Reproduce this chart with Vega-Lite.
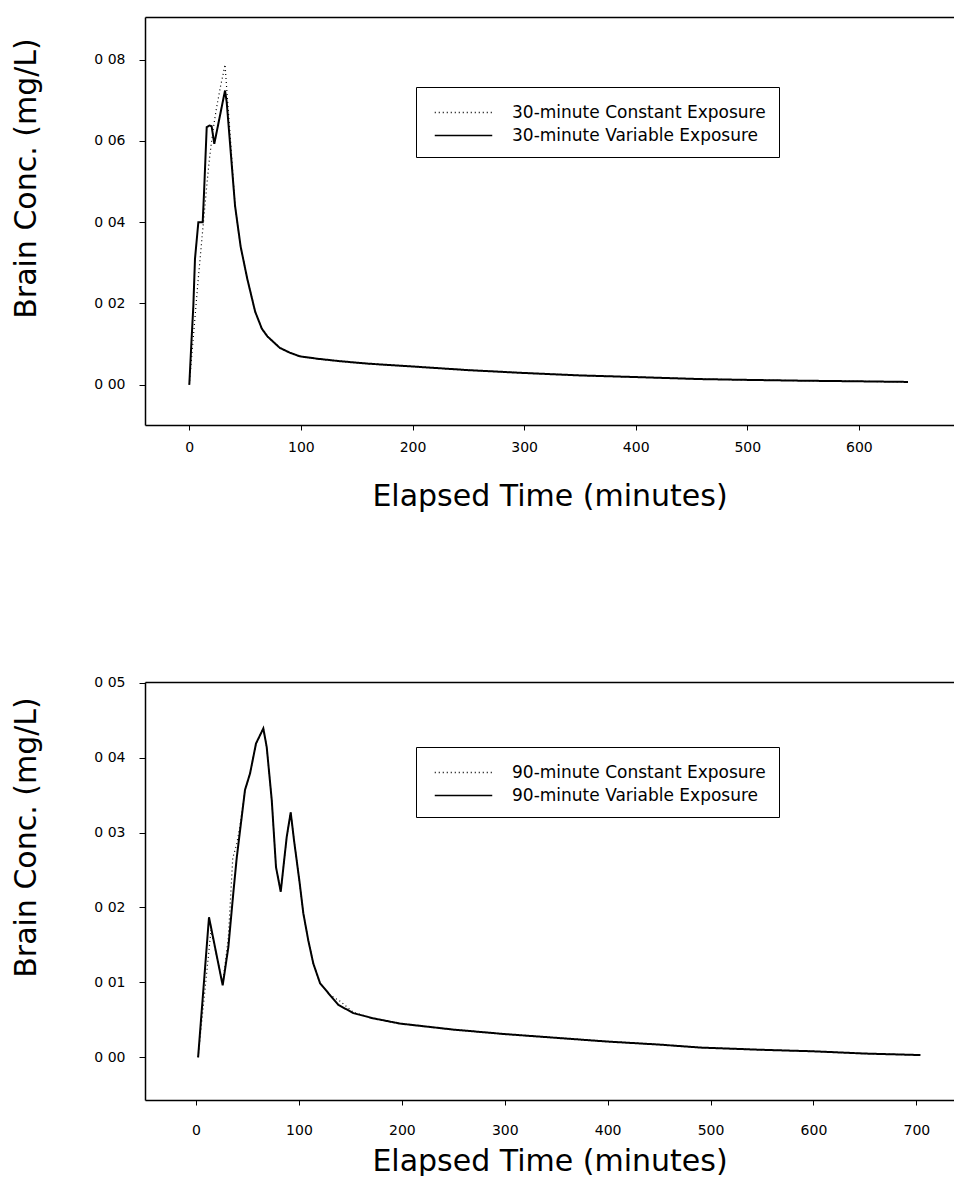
{
  "$schema": "https://vega.github.io/schema/vega-lite/v6.json",
  "background": "white",
  "padding": {"left": 11, "top": 17, "right": 0, "bottom": 0},
  "spacing": 164,
  "datasets": {
    "top": [
      {"t": 0, "c": 0, "s": "30-minute Constant Exposure"},
      {"t": 2, "c": 0.0065, "s": "30-minute Constant Exposure"},
      {"t": 4, "c": 0.013, "s": "30-minute Constant Exposure"},
      {"t": 6, "c": 0.0195, "s": "30-minute Constant Exposure"},
      {"t": 8, "c": 0.026, "s": "30-minute Constant Exposure"},
      {"t": 10, "c": 0.032, "s": "30-minute Constant Exposure"},
      {"t": 12, "c": 0.038, "s": "30-minute Constant Exposure"},
      {"t": 14, "c": 0.044, "s": "30-minute Constant Exposure"},
      {"t": 16, "c": 0.05, "s": "30-minute Constant Exposure"},
      {"t": 18, "c": 0.0555, "s": "30-minute Constant Exposure"},
      {"t": 20, "c": 0.06, "s": "30-minute Constant Exposure"},
      {"t": 22, "c": 0.064, "s": "30-minute Constant Exposure"},
      {"t": 24, "c": 0.0675, "s": "30-minute Constant Exposure"},
      {"t": 26, "c": 0.0705, "s": "30-minute Constant Exposure"},
      {"t": 28, "c": 0.0735, "s": "30-minute Constant Exposure"},
      {"t": 30, "c": 0.076, "s": "30-minute Constant Exposure"},
      {"t": 32, "c": 0.0788, "s": "30-minute Constant Exposure"},
      {"t": 34, "c": 0.071, "s": "30-minute Constant Exposure"},
      {"t": 37, "c": 0.06, "s": "30-minute Constant Exposure"},
      {"t": 41, "c": 0.044, "s": "30-minute Constant Exposure"},
      {"t": 46, "c": 0.034, "s": "30-minute Constant Exposure"},
      {"t": 52, "c": 0.026, "s": "30-minute Constant Exposure"},
      {"t": 59, "c": 0.018, "s": "30-minute Constant Exposure"},
      {"t": 65, "c": 0.0138, "s": "30-minute Constant Exposure"},
      {"t": 70, "c": 0.0119, "s": "30-minute Constant Exposure"},
      {"t": 81, "c": 0.0091, "s": "30-minute Constant Exposure"},
      {"t": 90, "c": 0.0079, "s": "30-minute Constant Exposure"},
      {"t": 99, "c": 0.007, "s": "30-minute Constant Exposure"},
      {"t": 115, "c": 0.0064, "s": "30-minute Constant Exposure"},
      {"t": 135, "c": 0.0058, "s": "30-minute Constant Exposure"},
      {"t": 160, "c": 0.0052, "s": "30-minute Constant Exposure"},
      {"t": 200, "c": 0.0045, "s": "30-minute Constant Exposure"},
      {"t": 250, "c": 0.0036, "s": "30-minute Constant Exposure"},
      {"t": 300, "c": 0.0029, "s": "30-minute Constant Exposure"},
      {"t": 350, "c": 0.0023, "s": "30-minute Constant Exposure"},
      {"t": 400, "c": 0.0019, "s": "30-minute Constant Exposure"},
      {"t": 458, "c": 0.0014, "s": "30-minute Constant Exposure"},
      {"t": 500, "c": 0.0012, "s": "30-minute Constant Exposure"},
      {"t": 550, "c": 0.001, "s": "30-minute Constant Exposure"},
      {"t": 600, "c": 0.00085, "s": "30-minute Constant Exposure"},
      {"t": 644, "c": 0.0007, "s": "30-minute Constant Exposure"},
      {"t": 0, "c": 0, "s": "30-minute Variable Exposure"},
      {"t": 2, "c": 0.011, "s": "30-minute Variable Exposure"},
      {"t": 3.6, "c": 0.0193, "s": "30-minute Variable Exposure"},
      {"t": 5.1, "c": 0.031, "s": "30-minute Variable Exposure"},
      {"t": 8.1, "c": 0.04, "s": "30-minute Variable Exposure"},
      {"t": 12, "c": 0.04, "s": "30-minute Variable Exposure"},
      {"t": 13.2, "c": 0.0473, "s": "30-minute Variable Exposure"},
      {"t": 15.6, "c": 0.0634, "s": "30-minute Variable Exposure"},
      {"t": 18, "c": 0.0638, "s": "30-minute Variable Exposure"},
      {"t": 20, "c": 0.0636, "s": "30-minute Variable Exposure"},
      {"t": 22.4, "c": 0.0593, "s": "30-minute Variable Exposure"},
      {"t": 32, "c": 0.0724, "s": "30-minute Variable Exposure"},
      {"t": 33.5, "c": 0.0696, "s": "30-minute Variable Exposure"},
      {"t": 41, "c": 0.044, "s": "30-minute Variable Exposure"},
      {"t": 46, "c": 0.034, "s": "30-minute Variable Exposure"},
      {"t": 52, "c": 0.026, "s": "30-minute Variable Exposure"},
      {"t": 59, "c": 0.018, "s": "30-minute Variable Exposure"},
      {"t": 65, "c": 0.0138, "s": "30-minute Variable Exposure"},
      {"t": 70, "c": 0.0119, "s": "30-minute Variable Exposure"},
      {"t": 81, "c": 0.0091, "s": "30-minute Variable Exposure"},
      {"t": 90, "c": 0.0079, "s": "30-minute Variable Exposure"},
      {"t": 99, "c": 0.007, "s": "30-minute Variable Exposure"},
      {"t": 115, "c": 0.0064, "s": "30-minute Variable Exposure"},
      {"t": 135, "c": 0.0058, "s": "30-minute Variable Exposure"},
      {"t": 160, "c": 0.0052, "s": "30-minute Variable Exposure"},
      {"t": 200, "c": 0.0045, "s": "30-minute Variable Exposure"},
      {"t": 250, "c": 0.0036, "s": "30-minute Variable Exposure"},
      {"t": 300, "c": 0.0029, "s": "30-minute Variable Exposure"},
      {"t": 350, "c": 0.0023, "s": "30-minute Variable Exposure"},
      {"t": 400, "c": 0.0019, "s": "30-minute Variable Exposure"},
      {"t": 458, "c": 0.0014, "s": "30-minute Variable Exposure"},
      {"t": 500, "c": 0.0012, "s": "30-minute Variable Exposure"},
      {"t": 550, "c": 0.001, "s": "30-minute Variable Exposure"},
      {"t": 600, "c": 0.00085, "s": "30-minute Variable Exposure"},
      {"t": 644, "c": 0.0007, "s": "30-minute Variable Exposure"}
    ],
    "bottom": [
      {"t": 2, "c": 0, "s": "90-minute Constant Exposure"},
      {"t": 12, "c": 0.0135, "s": "90-minute Constant Exposure"},
      {"t": 14.5, "c": 0.017, "s": "90-minute Constant Exposure"},
      {"t": 25.9, "c": 0.0098, "s": "90-minute Constant Exposure"},
      {"t": 31.4, "c": 0.016, "s": "90-minute Constant Exposure"},
      {"t": 35.7, "c": 0.0266, "s": "90-minute Constant Exposure"},
      {"t": 39.6, "c": 0.0285, "s": "90-minute Constant Exposure"},
      {"t": 42.8, "c": 0.031, "s": "90-minute Constant Exposure"},
      {"t": 47.6, "c": 0.0357, "s": "90-minute Constant Exposure"},
      {"t": 52.5, "c": 0.0379, "s": "90-minute Constant Exposure"},
      {"t": 58.3, "c": 0.0419, "s": "90-minute Constant Exposure"},
      {"t": 65.4, "c": 0.0439, "s": "90-minute Constant Exposure"},
      {"t": 68.7, "c": 0.0414, "s": "90-minute Constant Exposure"},
      {"t": 73.6, "c": 0.0343, "s": "90-minute Constant Exposure"},
      {"t": 77.7, "c": 0.0254, "s": "90-minute Constant Exposure"},
      {"t": 82.3, "c": 0.0221, "s": "90-minute Constant Exposure"},
      {"t": 88.1, "c": 0.0294, "s": "90-minute Constant Exposure"},
      {"t": 92, "c": 0.0327, "s": "90-minute Constant Exposure"},
      {"t": 95.2, "c": 0.029, "s": "90-minute Constant Exposure"},
      {"t": 100.4, "c": 0.0236, "s": "90-minute Constant Exposure"},
      {"t": 104.3, "c": 0.0192, "s": "90-minute Constant Exposure"},
      {"t": 109.1, "c": 0.0156, "s": "90-minute Constant Exposure"},
      {"t": 114, "c": 0.0125, "s": "90-minute Constant Exposure"},
      {"t": 120.5, "c": 0.0099, "s": "90-minute Constant Exposure"},
      {"t": 130.2, "c": 0.0083, "s": "90-minute Constant Exposure"},
      {"t": 140, "c": 0.0075, "s": "90-minute Constant Exposure"},
      {"t": 152.9, "c": 0.006, "s": "90-minute Constant Exposure"},
      {"t": 172.3, "c": 0.0052, "s": "90-minute Constant Exposure"},
      {"t": 198.3, "c": 0.0045, "s": "90-minute Constant Exposure"},
      {"t": 250, "c": 0.0037, "s": "90-minute Constant Exposure"},
      {"t": 300, "c": 0.0031, "s": "90-minute Constant Exposure"},
      {"t": 350, "c": 0.0026, "s": "90-minute Constant Exposure"},
      {"t": 400, "c": 0.0021, "s": "90-minute Constant Exposure"},
      {"t": 450, "c": 0.0017, "s": "90-minute Constant Exposure"},
      {"t": 490, "c": 0.0013, "s": "90-minute Constant Exposure"},
      {"t": 550, "c": 0.001, "s": "90-minute Constant Exposure"},
      {"t": 600, "c": 0.0008, "s": "90-minute Constant Exposure"},
      {"t": 650, "c": 0.0005, "s": "90-minute Constant Exposure"},
      {"t": 704, "c": 0.0003, "s": "90-minute Constant Exposure"},
      {"t": 2, "c": 0, "s": "90-minute Variable Exposure"},
      {"t": 12.6, "c": 0.0187, "s": "90-minute Variable Exposure"},
      {"t": 25.9, "c": 0.0096, "s": "90-minute Variable Exposure"},
      {"t": 31.4, "c": 0.0147, "s": "90-minute Variable Exposure"},
      {"t": 36.2, "c": 0.0219, "s": "90-minute Variable Exposure"},
      {"t": 39.6, "c": 0.0267, "s": "90-minute Variable Exposure"},
      {"t": 42.8, "c": 0.0303, "s": "90-minute Variable Exposure"},
      {"t": 47.6, "c": 0.0357, "s": "90-minute Variable Exposure"},
      {"t": 52.5, "c": 0.0379, "s": "90-minute Variable Exposure"},
      {"t": 58.3, "c": 0.0419, "s": "90-minute Variable Exposure"},
      {"t": 65.4, "c": 0.0439, "s": "90-minute Variable Exposure"},
      {"t": 68.7, "c": 0.0414, "s": "90-minute Variable Exposure"},
      {"t": 73.6, "c": 0.0343, "s": "90-minute Variable Exposure"},
      {"t": 77.7, "c": 0.0254, "s": "90-minute Variable Exposure"},
      {"t": 82.3, "c": 0.0221, "s": "90-minute Variable Exposure"},
      {"t": 88.1, "c": 0.0294, "s": "90-minute Variable Exposure"},
      {"t": 92, "c": 0.0327, "s": "90-minute Variable Exposure"},
      {"t": 95.2, "c": 0.029, "s": "90-minute Variable Exposure"},
      {"t": 100.4, "c": 0.0236, "s": "90-minute Variable Exposure"},
      {"t": 104.3, "c": 0.0192, "s": "90-minute Variable Exposure"},
      {"t": 109.1, "c": 0.0156, "s": "90-minute Variable Exposure"},
      {"t": 114, "c": 0.0125, "s": "90-minute Variable Exposure"},
      {"t": 120.5, "c": 0.0099, "s": "90-minute Variable Exposure"},
      {"t": 130.2, "c": 0.0083, "s": "90-minute Variable Exposure"},
      {"t": 138.3, "c": 0.007, "s": "90-minute Variable Exposure"},
      {"t": 152.9, "c": 0.0059, "s": "90-minute Variable Exposure"},
      {"t": 172.3, "c": 0.0052, "s": "90-minute Variable Exposure"},
      {"t": 198.3, "c": 0.0045, "s": "90-minute Variable Exposure"},
      {"t": 250, "c": 0.0037, "s": "90-minute Variable Exposure"},
      {"t": 300, "c": 0.0031, "s": "90-minute Variable Exposure"},
      {"t": 350, "c": 0.0026, "s": "90-minute Variable Exposure"},
      {"t": 400, "c": 0.0021, "s": "90-minute Variable Exposure"},
      {"t": 450, "c": 0.0017, "s": "90-minute Variable Exposure"},
      {"t": 490, "c": 0.0013, "s": "90-minute Variable Exposure"},
      {"t": 550, "c": 0.001, "s": "90-minute Variable Exposure"},
      {"t": 600, "c": 0.0008, "s": "90-minute Variable Exposure"},
      {"t": 650, "c": 0.0005, "s": "90-minute Variable Exposure"},
      {"t": 704, "c": 0.0003, "s": "90-minute Variable Exposure"}
    ]
  },
  "vconcat": [
    {
      "width": 809,
      "height": 408,
      "data": {"name": "top"},
      "encoding": {
        "y": {
          "field": "c", "type": "quantitative",
          "scale": {"domain": [-0.0099, 0.0905], "nice": false, "zero": false},
          "axis": {
            "values": [0, 0.02, 0.04, 0.06, 0.08],
            "labelExpr": "replace(format(datum.value, '.2f'), '.', ' ')",
            "title": "Brain Conc. (mg/L)",
            "titleX": -110, "titleY": 161, "titleBaseline": "alphabetic", "titleAlign": "center", "titleAngle": 270
          }
        },
        "strokeDash": {
          "field": "s", "type": "nominal",
          "scale": {"domain": ["30-minute Constant Exposure", "30-minute Variable Exposure"], "range": [[1, 3], [1, 0]]},
          "legend": {"orient": "none", "legendX": 271, "legendY": 70}
        }
      },
      "layer": [
        {
          "transform": [{"filter": "datum.s == '30-minute Constant Exposure'"}],
          "mark": {"type": "line", "color": "black", "strokeWidth": 1.2},
          "encoding": {
            "x": {
              "field": "t", "type": "quantitative",
              "scale": {"domain": [-39.7, 685.2], "nice": false, "zero": false},
              "axis": {"orient": "top", "labels": false, "ticks": false, "title": null, "domain": true}
            }
          }
        },
        {
          "transform": [{"filter": "datum.s == '30-minute Variable Exposure'"}],
          "mark": {"type": "line", "color": "black", "strokeWidth": 2},
          "encoding": {
            "x": {
              "field": "t", "type": "quantitative",
              "scale": {"domain": [-39.7, 685.2], "nice": false, "zero": false},
              "axis": {
                "orient": "bottom",
                "values": [0, 100, 200, 300, 400, 500, 600],
                "title": "Elapsed Time (minutes)",
                "titleY": 80, "titleBaseline": "alphabetic"
              }
            }
          }
        }
      ],
      "resolve": {"axis": {"x": "independent"}}
    },
    {
      "width": 809,
      "height": 418,
      "data": {"name": "bottom"},
      "encoding": {
        "y": {
          "field": "c", "type": "quantitative",
          "scale": {"domain": [-0.0057, 0.0501], "nice": false, "zero": false},
          "axis": {
            "values": [0, 0.01, 0.02, 0.03, 0.04, 0.05],
            "labelExpr": "replace(format(datum.value, '.2f'), '.', ' ')",
            "title": "Brain Conc. (mg/L)",
            "titleX": -110, "titleY": 155, "titleBaseline": "alphabetic", "titleAlign": "center", "titleAngle": 270
          }
        },
        "strokeDash": {
          "field": "s", "type": "nominal",
          "scale": {"domain": ["90-minute Constant Exposure", "90-minute Variable Exposure"], "range": [[1, 3], [1, 0]]},
          "legend": {"orient": "none", "legendX": 271, "legendY": 65}
        }
      },
      "layer": [
        {
          "transform": [{"filter": "datum.s == '90-minute Constant Exposure'"}],
          "mark": {"type": "line", "color": "black", "strokeWidth": 1.2},
          "encoding": {
            "x": {
              "field": "t", "type": "quantitative",
              "scale": {"domain": [-49.6, 736.6], "nice": false, "zero": false},
              "axis": {"orient": "top", "labels": false, "ticks": false, "title": null, "domain": true}
            }
          }
        },
        {
          "transform": [{"filter": "datum.s == '90-minute Variable Exposure'"}],
          "mark": {"type": "line", "color": "black", "strokeWidth": 2},
          "encoding": {
            "x": {
              "field": "t", "type": "quantitative",
              "scale": {"domain": [-49.6, 736.6], "nice": false, "zero": false},
              "axis": {
                "orient": "bottom",
                "values": [0, 100, 200, 300, 400, 500, 600, 700],
                "title": "Elapsed Time (minutes)",
                "titleY": 70, "titleBaseline": "alphabetic",
                "labelPadding": 18
              }
            }
          }
        }
      ],
      "resolve": {"axis": {"x": "independent"}}
    }
  ],
  "resolve": {
    "scale": {"x": "independent", "y": "independent", "strokeDash": "independent"},
    "legend": {"strokeDash": "independent"}
  },
  "config": {
    "view": {"stroke": null},
    "axis": {
      "grid": false,
      "domainColor": "black",
      "domainWidth": 1.5,
      "tickColor": "black",
      "tickSize": 5,
      "labelColor": "black",
      "labelFont": "DejaVu Sans",
      "labelFontSize": 14,
      "titleColor": "black",
      "titleFont": "DejaVu Sans",
      "titleFontSize": 30,
      "titleFontWeight": "normal"
    },
    "axisY": {"labelPadding": 14, "tickSize": 6},
    "axisX": {"labelPadding": 10},
    "legend": {
      "title": null,
      "strokeColor": "black",
      "fillColor": "white",
      "padding": 13,
      "rowPadding": 2,
      "symbolType": "M-2.5,0H2.5",
      "symbolSize": 529,
      "symbolStrokeColor": "black",
      "symbolStrokeWidth": 1.5,
      "symbolOffset": 22,
      "labelOffset": 36,
      "labelFont": "DejaVu Sans",
      "labelFontSize": 17,
      "labelColor": "black",
      "labelLimit": 600
    }
  }
}
